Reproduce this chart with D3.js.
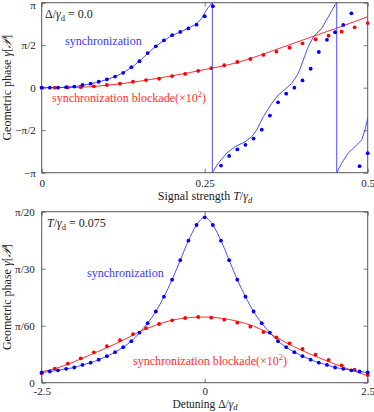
<!DOCTYPE html>
<html><head><meta charset="utf-8">
<script src="https://cdn.jsdelivr.net/npm/d3@7"></script>
<style>
html,body{margin:0;padding:0;background:#fff;}
svg{display:block;}
svg text{font-family:"Liberation Serif","DejaVu Serif",serif;}
</style></head>
<body><svg id="chart" width="374" height="412"></svg>
<script>
// ---------- DATA: top panel (Δ/γd = 0.0), x = T/γd, y = geometric phase (rad) ----------
const topBlueDotT = [0,0.0125,0.025,0.0375,0.05,0.0625,0.075,0.0875,0.1,0.1125,0.125,0.1375,0.15,0.1625,0.175,0.1875,0.2,0.2125,0.225,0.2375,0.25,0.2625,0.275,0.2875,0.3,0.3125,0.325,0.3375,0.35,0.3625,0.375,0.3875,0.4,0.4125,0.425,0.4375,0.45,0.4625,0.475,0.4875,0.5];
const topBlueDotY = [0,0,0,0.02,0.04,0.10,0.15,0.22,0.31,0.41,0.55,0.76,0.98,1.28,1.53,1.75,1.94,2.06,2.19,2.33,2.64,3.01,-2.88,-2.52,-2.28,-2.11,-1.88,-1.55,-1.03,-0.54,-0.22,0.0,0.27,0.70,1.32,1.77,2.05,2.32,2.75,-2.90,-2.42];
const topBlueLineT = [0,0.025,0.05,0.075,0.1,0.1125,0.125,0.1375,0.15,0.1625,0.175,0.1875,0.2,0.2125,0.225,0.2375,0.245,0.25,0.2555,0.2617,0.2617,0.2709,0.2837,0.2965,0.3118,0.3221,0.3298,0.3399,0.3528,0.3629,0.3732,0.3834,0.3936,0.4012,0.4089,0.4166,0.4218,0.4294,0.4396,0.4498,0.4525,0.4525,0.46,0.47,0.4805,0.4908,0.4959,0.5];
const topBlueLineY = [0,0.005,0.04,0.14,0.3,0.41,0.55,0.75,0.98,1.27,1.53,1.75,1.93,2.06,2.2,2.36,2.55,2.77,2.97,3.1416,-3.1416,-2.79,-2.42,-2.18,-2.0,-1.81,-1.56,-1.07,-0.58,-0.27,-0.06,0.16,0.53,1.02,1.52,1.88,2.01,2.19,2.62,3.06,3.1416,-3.1416,-2.79,-2.42,-2.18,-1.93,-1.56,-1.13];
const topRedDotT = [0,0.02,0.04,0.06,0.08,0.10,0.12,0.14,0.16,0.18,0.20,0.22,0.24,0.26,0.28,0.30,0.32,0.34,0.36,0.38,0.40,0.42,0.44,0.46,0.48,0.50];
const topRedDotY = [0,0,0.01,0.02,0.05,0.10,0.15,0.22,0.28,0.33,0.43,0.51,0.62,0.72,0.83,0.95,1.06,1.21,1.33,1.48,1.64,1.79,1.92,2.07,2.23,2.39];
const topRedLineT = [0,0.05,0.1,0.15,0.2,0.25,0.3,0.35,0.4,0.45,0.5];
const topRedLineY = [0,0.01,0.09,0.24,0.44,0.67,0.93,1.33,1.76,2.18,2.62];
const topXTicks = [0,0.25,0.5];
const topXTickLabels = ["0","0.25","0.5"];
const topYTicks = [-Math.PI,-Math.PI/2,0,Math.PI/2,Math.PI];
const topYTickLabels = ["\u2212\u03C0","\u2212\u03C0/2","0","\u03C0/2","\u03C0"];

// ---------- DATA: bottom panel (T/γd = 0.075), x = Δ/γd, y = geometric phase (rad) ----------
const botBlueD = [-2.5,-2.375,-2.25,-2.125,-2,-1.875,-1.75,-1.625,-1.5,-1.375,-1.25,-1.125,-1,-0.875,-0.75,-0.625,-0.5,-0.375,-0.25,-0.125,0,0.125,0.25,0.375,0.5,0.625,0.75,0.875,1,1.125,1.25,1.375,1.5,1.625,1.75,1.875,2,2.125,2.25,2.375,2.5];
const botBlueY = [0.00937,0.01029,0.01139,0.01277,0.01396,0.01635,0.01837,0.02113,0.02434,0.02802,0.03261,0.03812,0.04593,0.05466,0.06541,0.07900,0.09462,0.11253,0.13044,0.14487,0.15194,0.14487,0.13044,0.11253,0.09462,0.07900,0.06541,0.05466,0.04593,0.03812,0.03261,0.02802,0.02434,0.02113,0.01837,0.01635,0.01396,0.01277,0.01139,0.01029,0.00937];
const botRedDotD = [-2.5,-2.3,-2.1,-1.9,-1.7,-1.5,-1.3,-1.1,-0.9,-0.7,-0.5,-0.3,-0.1,0.1,0.3,0.5,0.7,0.9,1.1,1.3,1.5,1.7,1.9,2.1,2.3,2.5];
const botRedDotY = [0.00864,0.01286,0.01745,0.02241,0.02793,0.03353,0.03904,0.04455,0.05006,0.05392,0.05732,0.05943,0.06035,0.05971,0.05787,0.05512,0.05144,0.04657,0.04170,0.03619,0.03096,0.02572,0.02085,0.01598,0.01194,0.00707];
const botRedLineD = [-2.5,-2.25,-2,-1.75,-1.5,-1.25,-1,-0.75,-0.5,-0.25,0,0.25,0.5,0.75,1,1.25,1.5,1.75,2,2.25,2.5];
const botRedLineY = [0.01010,0.01378,0.01929,0.02572,0.03215,0.03904,0.04685,0.05282,0.05741,0.05971,0.06035,0.05925,0.05650,0.05190,0.04501,0.03674,0.02940,0.02297,0.01699,0.01148,0.00643];
const botXTicks = [-2.5,0,2.5];
const botXTickLabels = ["-2.5","0","2.5"];
const botYTicks = [0,Math.PI/60,Math.PI/30,Math.PI/20];
const botYTickLabels = ["0","\u03C0/60","\u03C0/30","\u03C0/20"];

// ---------- DRAWING ----------
const FONT = '"Liberation Serif","DejaVu Serif",serif';
const svg = d3.select("#chart");
const BLUE = "#0000ff", BLUE_L = "#3a3aff", RED = "#ff0000", RED_L = "#ff3030";
const FRAME = "#555";

function panel(cfg){
  const g = svg.append("g");
  const x = d3.scaleLinear().domain(cfg.xDom).range([cfg.left, cfg.right]);
  const y = d3.scaleLinear().domain(cfg.yDom).range([cfg.bottom, cfg.top]);
  const ax = (gen, tr) => {
    const a = g.append("g").attr("transform", tr).call(gen)
      .attr("font-family", FONT).attr("font-size", 11);
    a.select(".domain").remove();
    a.selectAll(".tick line").attr("stroke", FRAME).attr("stroke-width", 0.8);
    a.selectAll("text").attr("fill", "#222");
    return a;
  };
  const left = ax(d3.axisLeft(y).tickValues(cfg.yTicks).tickFormat((d,i)=>cfg.yLabels[i]).tickSizeInner(-4).tickSizeOuter(0).tickPadding(cfg.yPad), `translate(${cfg.left},0)`);
  if (cfg.topLabelDy) left.selectAll("text").filter(d=>d===cfg.yDom[1]).attr("dy", cfg.topLabelDy);
  ax(d3.axisRight(y).tickValues(cfg.yTicks).tickFormat("").tickSizeInner(-4).tickSizeOuter(0), `translate(${cfg.right},0)`);
  ax(d3.axisBottom(x).tickValues(cfg.xTicks).tickFormat((d,i)=>cfg.xLabels[i]).tickSizeInner(-4).tickSizeOuter(0).tickPadding(cfg.xPad), `translate(0,${cfg.bottom})`);
  ax(d3.axisTop(x).tickValues(cfg.xTicks).tickFormat("").tickSizeInner(-4).tickSizeOuter(0), `translate(0,${cfg.top})`);
  g.append("rect").attr("x", cfg.left).attr("y", cfg.top)
    .attr("width", cfg.right-cfg.left).attr("height", cfg.bottom-cfg.top)
    .attr("fill","none").attr("stroke", FRAME).attr("stroke-width", 1);

  const lineGen = d3.line().x(d=>x(d[0])).y(d=>y(d[1]));
  g.append("path").datum(d3.zip(cfg.redLineX, cfg.redLineY))
    .attr("d", lineGen.curve(d3.curveMonotoneX)).attr("fill","none").attr("stroke", RED_L).attr("stroke-width", 1);
  g.append("g").selectAll("circle").data(d3.zip(cfg.redDotX, cfg.redDotY)).join("circle")
    .attr("cx", d=>x(d[0])).attr("cy", d=>y(d[1])).attr("r", 1.9).attr("fill", RED);
  g.append("path").datum(d3.zip(cfg.blueLineX, cfg.blueLineY))
    .attr("d", d3.line().x(d=>x(d[0])).y(d=>y(d[1])).curve(cfg.blueCurve)).attr("fill","none").attr("stroke", BLUE_L).attr("stroke-width", 0.9);
  g.append("g").selectAll("circle").data(d3.zip(cfg.blueDotX, cfg.blueDotY)).join("circle")
    .attr("cx", d=>x(d[0])).attr("cy", d=>y(d[1])).attr("r", 1.9).attr("fill", BLUE);

  const cy = (cfg.top + cfg.bottom)/2;
  const yl = g.append("text").attr("transform", `translate(11,${cy}) rotate(-90)`)
    .attr("text-anchor","middle").attr("font-size",12).attr("font-family", FONT).attr("fill","#222");
  yl.append("tspan").text("Geometric phase ");
  yl.append("tspan").style("font-style","italic").text("\u03B3");
  yl.append("tspan").text("[");
  yl.append("tspan").style("font-style","italic").text("\uD835\uDCAB");
  yl.append("tspan").text("]");
  return {g, x, y};
}

function addSubText(g, xPos, yPos, parts, opts){
  const t = g.append("text").attr("x", xPos).attr("y", yPos).attr("font-size", opts.size||12)
    .attr("font-family", FONT)
    .attr("fill", opts.color||"#222").attr("text-anchor", opts.anchor||"start");
  parts.forEach(p=>{
    const s = t.append("tspan").text(p.t);
    if(p.i) s.style("font-style","italic");
    if(p.sub) s.attr("font-size",8.5).attr("dy", 2.5);
    if(p.sup) s.attr("font-size",8.5).attr("dy", -5);
    if(p.back) s.attr("dy", p.back);
  });
  return t;
}

const P1 = panel({
  left:41.7, right:367.7, top:2.7, bottom:172.7,
  xDom:[0,0.5], yDom:[-Math.PI, Math.PI],
  xTicks: topXTicks, xLabels: topXTickLabels, yTicks: topYTicks, yLabels: topYTickLabels, xPad: 7, yPad: 6,
  topLabelDy: "0.5em",
  redLineX: topRedLineT, redLineY: topRedLineY, redDotX: topRedDotT, redDotY: topRedDotY,
  blueLineX: topBlueLineT, blueLineY: topBlueLineY, blueDotX: topBlueDotT, blueDotY: topBlueDotY,
  blueCurve: d3.curveLinear
});
addSubText(P1.g, 45, 18, [{t:"\u0394/"},{t:"\u03B3",i:true},{t:"d",sub:true},{t:" = 0.0",back:-2.5}], {});
addSubText(P1.g, 65, 45, [{t:"synchronization"}], {color:BLUE_L});
addSubText(P1.g, 52, 102, [{t:"synchronization blockade(\u00D710"},{t:"2",sup:true},{t:")",back:5}], {color:RED_L});
addSubText(P1.g, 205, 200, [{t:"Signal strength "},{t:"T",i:true},{t:"/"},{t:"\u03B3",i:true},{t:"d",i:true,sub:true}], {anchor:"middle"});

const P2 = panel({
  left:41.7, right:367.7, top:211.7, bottom:382.7,
  xDom:[-2.5,2.5], yDom:[0, Math.PI/20],
  xTicks: botXTicks, xLabels: botXTickLabels, yTicks: botYTicks, yLabels: botYTickLabels, xPad: 5, yPad: 7,
  redLineX: botRedLineD, redLineY: botRedLineY, redDotX: botRedDotD, redDotY: botRedDotY,
  blueLineX: botBlueD, blueLineY: botBlueY, blueDotX: botBlueD, blueDotY: botBlueY,
  blueCurve: d3.curveMonotoneX
});
addSubText(P2.g, 47, 227, [{t:"T",i:true},{t:"/"},{t:"\u03B3",i:true},{t:"d",sub:true},{t:" = 0.075",back:-2.5}], {});
addSubText(P2.g, 87, 277, [{t:"synchronization"}], {color:BLUE_L});
addSubText(P2.g, 133, 365, [{t:"synchronization blockade(\u00D710"},{t:"2",sup:true},{t:")",back:5}], {color:RED_L});
addSubText(P2.g, 205, 407.5, [{t:"Detuning \u0394/"},{t:"\u03B3",i:true},{t:"d",i:true,sub:true}], {anchor:"middle", size:11.5});
</script>
</body></html>
